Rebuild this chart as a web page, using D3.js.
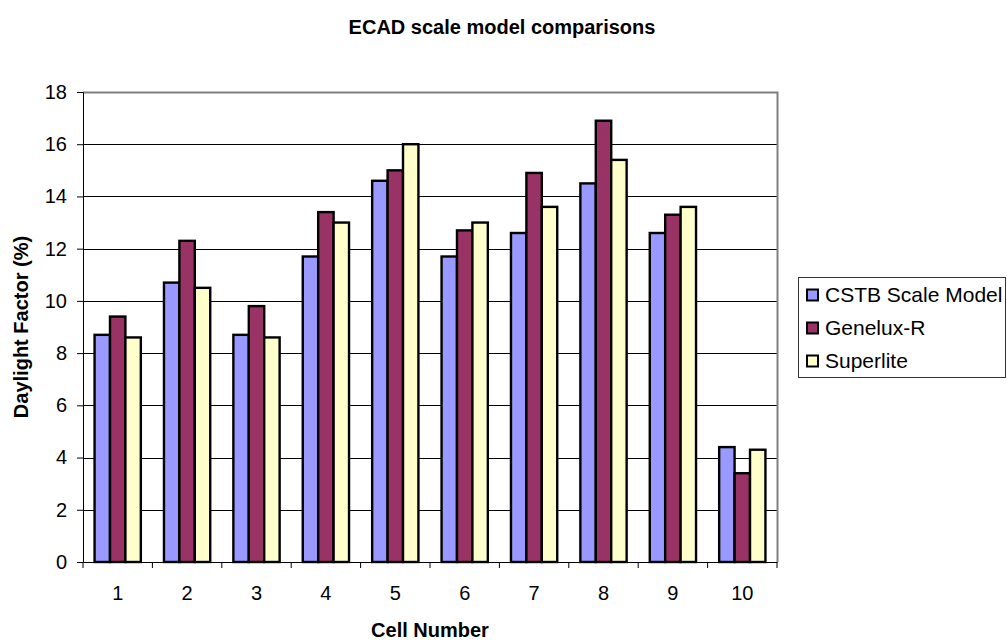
<!DOCTYPE html>
<html>
<head>
<meta charset="utf-8">
<script src="https://cdn.jsdelivr.net/npm/d3@7"></script>
<style>
  body { margin: 0; background: #fff; }
  svg text { font-family: "Liberation Sans", Arial, sans-serif; fill: #000; }
</style>
</head>
<body>
<div id="chart"></div>
<script>
// chart data
let cells = ['1', '2', '3', '4', '5', '6', '7', '8', '9', '10'];
let seriesNames = ['CSTB Scale Model', 'Genelux-R', 'Superlite'];
let cstb = [8.7, 10.7, 8.7, 11.7, 14.6, 11.7, 12.6, 14.5, 12.6, 4.4];
let genelux = [9.4, 12.3, 9.8, 13.4, 15.0, 12.7, 14.9, 16.9, 13.3, 3.4];
let superlite = [8.6, 10.5, 8.6, 13.0, 16.0, 13.0, 13.6, 15.4, 13.6, 4.3];
let yTicks = [0, 2, 4, 6, 8, 10, 12, 14, 16, 18];
let colors = ['#9999ff', '#993366', '#ffffcc'];

let rows = cells.map(function(c, i) {
  return { cell: c, values: [cstb[i], genelux[i], superlite[i]] };
});

let width = 1007, height = 642;
let plot = { left: 83, right: 777, top: 92, bottom: 562 };

let svg = d3.select('#chart').append('svg')
  .attr('width', width)
  .attr('height', height);

// scales
let x0 = d3.scaleBand().domain(cells).range([plot.left, plot.right]);
let x1 = d3.scaleBand().domain(seriesNames).range([0, x0.bandwidth()]).paddingOuter(0.75);
let y = d3.scaleLinear().domain([0, 18]).range([plot.bottom, plot.top]);

// title
svg.append('text')
  .attr('x', 502)
  .attr('y', 34)
  .attr('text-anchor', 'middle')
  .style('font-size', '20px')
  .style('font-weight', 'bold')
  .text('ECAD scale model comparisons');

// gridlines
svg.append('g')
  .selectAll('line')
  .data(yTicks.filter(t => t > 0 && t < 18))
  .enter()
  .append('line')
  .attr('x1', plot.left)
  .attr('x2', plot.right)
  .attr('y1', d => Math.round(y(d)) + 0.5)
  .attr('y2', d => Math.round(y(d)) + 0.5)
  .attr('stroke', '#000')
  .attr('stroke-width', 1);

// plot border (top and right)
svg.append('path')
  .attr('d', 'M' + plot.left + ',' + (plot.top + 0.5) + 'H' + (plot.right + 0.5) + 'V' + plot.bottom)
  .attr('fill', 'none')
  .attr('stroke', '#808080')
  .attr('stroke-width', 2);

// bars
let groups = svg.append('g')
  .selectAll('g')
  .data(rows)
  .enter()
  .append('g')
  .attr('transform', d => 'translate(' + x0(d.cell) + ',0)');

groups.selectAll('rect')
  .data(d => d.values.map((v, i) => ({ name: seriesNames[i], value: v, idx: i })))
  .enter()
  .append('rect')
  .attr('x', d => x1(d.name))
  .attr('y', d => y(d.value))
  .attr('width', x1.bandwidth())
  .attr('height', d => y(0) - y(d.value))
  .attr('fill', d => colors[d.idx])
  .attr('stroke', '#000')
  .attr('stroke-width', 2.4);

// y axis
let yAxis = svg.append('g')
  .attr('transform', 'translate(' + plot.left + ',0)')
  .call(d3.axisLeft(y).tickValues(yTicks).tickSize(6).tickPadding(10));
yAxis.selectAll('text').style('font-size', '20px');
yAxis.selectAll('line, path').attr('stroke', '#000');

// x axis: labels centred, ticks between categories
let xAxis = svg.append('g')
  .attr('transform', 'translate(0,' + plot.bottom + ')')
  .call(d3.axisBottom(x0).tickSize(0).tickPadding(24));
xAxis.select('.domain').attr('stroke', '#000');
xAxis.selectAll('text').style('font-size', '20px');

xAxis.selectAll('.sep')
  .data(cells.concat(['end']))
  .enter()
  .append('line')
  .attr('class', 'sep')
  .attr('x1', d => d === 'end' ? plot.right : x0(d))
  .attr('x2', d => d === 'end' ? plot.right : x0(d))
  .attr('y1', 0)
  .attr('y2', 6)
  .attr('stroke', '#000');

// axis titles
svg.append('text')
  .attr('x', (plot.left + plot.right) / 2)
  .attr('y', 637)
  .attr('text-anchor', 'middle')
  .style('font-size', '20px')
  .style('font-weight', 'bold')
  .text('Cell Number');

svg.append('text')
  .attr('transform', 'translate(28,' + (plot.top + plot.bottom) / 2 + ') rotate(-90)')
  .attr('text-anchor', 'middle')
  .style('font-size', '20px')
  .style('font-weight', 'bold')
  .text('Daylight Factor (%)');

// legend
let legend = svg.append('g');
legend.append('rect')
  .attr('x', 798.5)
  .attr('y', 277.5)
  .attr('width', 207)
  .attr('height', 100)
  .attr('fill', '#fff')
  .attr('stroke', '#333')
  .attr('stroke-width', 1);

let items = legend.selectAll('.item')
  .data(seriesNames)
  .enter()
  .append('g')
  .attr('class', 'item')
  .attr('transform', (d, i) => 'translate(0,' + (295 + i * 33) + ')');

items.append('rect')
  .attr('x', 807)
  .attr('y', -5.5)
  .attr('width', 11)
  .attr('height', 11)
  .attr('fill', (d, i) => colors[i])
  .attr('stroke', '#000')
  .attr('stroke-width', 2);

items.append('text')
  .attr('x', 825)
  .attr('dy', '0.35em')
  .style('font-size', '21px')
  .text(d => d);
</script>
</body>
</html>
